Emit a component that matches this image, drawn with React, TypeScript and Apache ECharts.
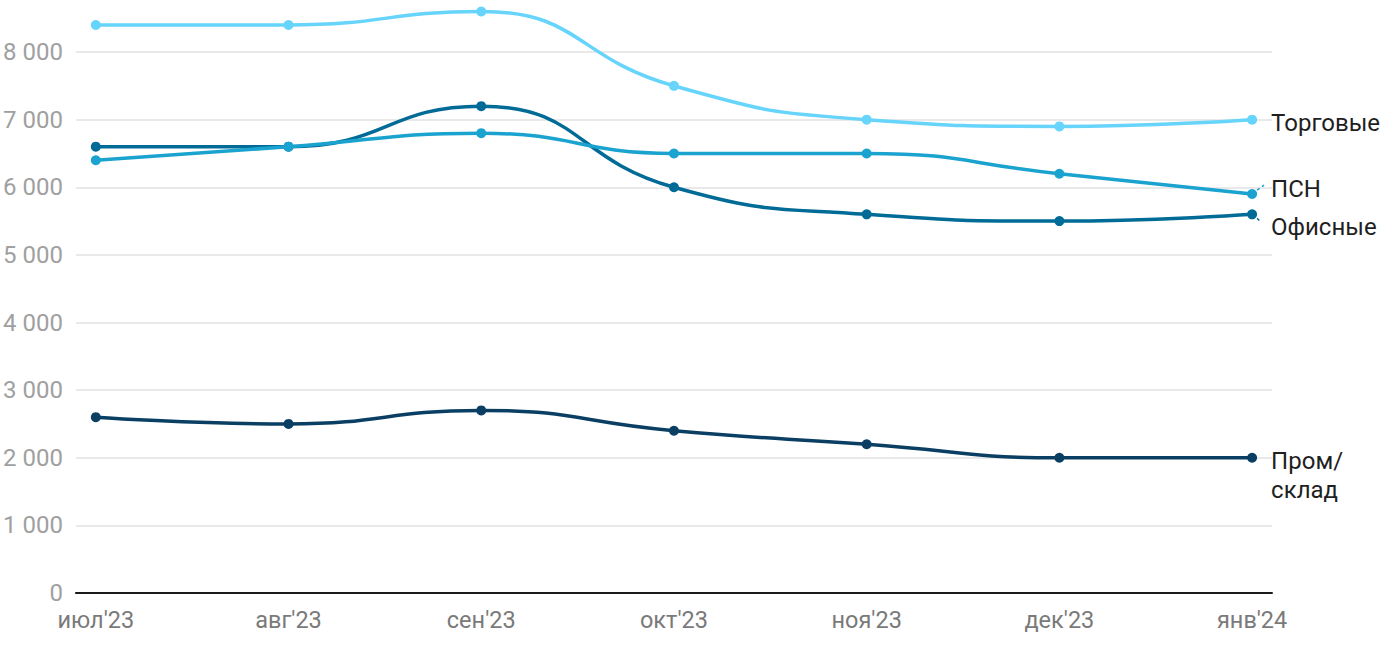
import React, { useEffect, useRef } from "react";
import * as echarts from "echarts";

const categories = ["июл'23", "авг'23", "сен'23", "окт'23", "ноя'23", "дек'23", "янв'24"];
const trade = [8400, 8400, 8600, 7500, 7000, 6900, 7000];
const psn = [6400, 6600, 6800, 6500, 6500, 6200, 5900];
const office = [6600, 6600, 7200, 6000, 5600, 5500, 5600];
const industrial = [2600, 2500, 2700, 2400, 2200, 2000, 2000];
const seriesNames = ["Торговые", "ПСН", "Офисные", "Пром/\nсклад"];
const yTicks = [0, 1000, 2000, 3000, 4000, 5000, 6000, 7000, 8000];

const colors = ["#66d4fb", "#1ba3d0", "#006b96", "#0a3f63"];
const FONT = "Roboto";

export default function App() {
  const ref = useRef<HTMLDivElement>(null);
  useEffect(() => {
    if (!ref.current) return;
    const chart = echarts.init(ref.current, null, { renderer: "svg" });
    const datasets = [trade, psn, office, industrial];
    const dys = [3, -5, 13, 18];
    const series = datasets.map((d, si) => ({
      type: "line",
      name: seriesNames[si],
      data: d.map((v, i) => [i, v]),
      smooth: 0.5,
      symbol: "circle",
      symbolSize: 10,
      showSymbol: true,
      lineStyle: { color: colors[si], width: 3.5 },
      itemStyle: { color: colors[si] },
      z: 10 - si,
      endLabel: {
        show: true,
        formatter: seriesNames[si],
        color: "#1f1f1f",
        fontFamily: FONT,
        fontSize: 24,
        lineHeight: 29,
        distance: 19,
        offset: [0, dys[si]],
      },
    }));
    chart.setOption({
      animation: false,
      grid: { left: 72, right: 128, top: 4.7, bottom: 57, containLabel: false },
      xAxis: {
        type: "value",
        min: -0.1033,
        max: 6.1033,
        axisLine: { show: true, lineStyle: { color: "#1a1a1a", width: 2 } },
        axisTick: { show: false },
        splitLine: { show: false },
        axisLabel: {
          customValues: categories.map((_, i) => i),
          formatter: (v: number) => categories[Math.round(v)] ?? "",
          color: "#7a7a7a",
          fontFamily: FONT,
          fontSize: 23.5,
          margin: 15,
        },
      },
      yAxis: {
        type: "value",
        min: 0,
        max: 8700,
        axisLine: { show: false },
        axisTick: { show: false, customValues: yTicks },
        splitLine: { show: true, lineStyle: { color: "#e2e2e2", width: 1.5 } },
        axisLabel: {
          customValues: yTicks,
          formatter: (v: number) => (v === 0 ? "0" : String(v / 1000) + " 000"),
          color: "#a0a0a0",
          fontFamily: FONT,
          fontSize: 24,
          margin: 13,
        },
      },
      series,
    });
    // small dashed connectors from the last points of ПСН and Офисные to their labels
    const last = categories.length - 1;
    const pPsn = chart.convertToPixel({ gridIndex: 0 }, [last, psn[last]]) as number[];
    const pOff = chart.convertToPixel({ gridIndex: 0 }, [last, office[last]]) as number[];
    if (pPsn && pOff) {
      const zr = chart.getZr();
      zr.add(
        new echarts.graphic.Line({
          shape: { x1: pPsn[0] + 5, y1: pPsn[1] - 4, x2: pPsn[0] + 12, y2: pPsn[1] - 9 },
          style: { stroke: colors[1], lineWidth: 1.5, lineDash: [3, 3] },
          z: 20,
        })
      );
      zr.add(
        new echarts.graphic.Line({
          shape: { x1: pOff[0] + 5, y1: pOff[1] + 4, x2: pOff[0] + 9, y2: pOff[1] + 8 },
          style: { stroke: colors[2], lineWidth: 1.5, lineDash: [3, 3] },
          z: 20,
        })
      );
    }
    return () => chart.dispose();
  }, []);
  return (
    <div
      ref={ref}
      style={{ position: "fixed", left: 0, top: 0, width: 1400, height: 650, background: "#fff" }}
    />
  );
}
